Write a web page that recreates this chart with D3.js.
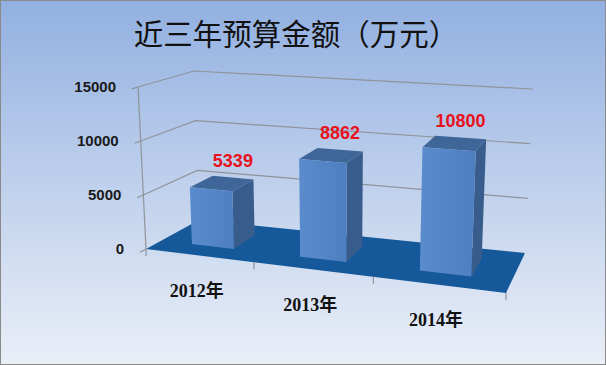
<!DOCTYPE html>
<html>
<head>
<meta charset="utf-8">
<script src="https://cdn.jsdelivr.net/npm/d3@7"></script>
<style>
  body { margin: 0; padding: 0; }
  svg { display: block; }
</style>
</head>
<body>
<div id="chart-area"></div>
<script>
// data
var years = ["2012年", "2013年", "2014年"];
var budget = [5339, 8862, 10800];
var yTicks = [0, 5000, 10000, 15000];
var title = "近三年预算金额（万元）";

var W = 606, H = 365;

var svg = d3.select("#chart-area").append("svg")
    .attr("width", W)
    .attr("height", H);

var defs = svg.append("defs");
var bg = defs.append("linearGradient").attr("id", "bg")
    .attr("x1", 0).attr("y1", 0).attr("x2", 0).attr("y2", 1);
bg.append("stop").attr("offset", "0%").attr("stop-color", "#92b0e1");
bg.append("stop").attr("offset", "55%").attr("stop-color", "#c3d3ed");
bg.append("stop").attr("offset", "100%").attr("stop-color", "#eaeff8");

var front = defs.append("linearGradient").attr("id", "front")
    .attr("x1", 0).attr("y1", 0).attr("x2", 1).attr("y2", 0);
front.append("stop").attr("offset", "0%").attr("stop-color", "#5a8bcc");
front.append("stop").attr("offset", "100%").attr("stop-color", "#4e7fc0");

svg.append("rect")
    .attr("x", 0.5).attr("y", 0.5)
    .attr("width", W - 1).attr("height", H - 1)
    .attr("fill", "url(#bg)")
    .attr("stroke", "#8a8a8a");

// --- perspective "box": floor corners, vertical scale (px per full range) at each corner
var floorFL = [146, 249], floorFR = [506, 293], floorBR = [525, 253], floorBL = [199, 220];
var hFL = 162, hFR = 181, hBL = 149, hBR = 164;
var persU = -0.143, persD = 0.12;   // foreshortening along width / depth
var vp = [337, 4141];               // where the verticals meet

var x = d3.scaleBand()
    .domain(years)
    .range([0, 1])
    .paddingInner(0.6)
    .paddingOuter(0.3);

var y = d3.scaleLinear()
    .domain([0, 15000])
    .range([0, 1]);

function proj(u, d, v) {
    var l = u * (1 + persU) / (1 + persU * u);
    var m = d * (1 + persD) / (1 + persD * d);
    var a = (1 - l) * (1 - m), b = l * (1 - m), c = (1 - l) * m, e = l * m;
    var gx = a * floorFL[0] + b * floorFR[0] + c * floorBL[0] + e * floorBR[0];
    var gy = a * floorFL[1] + b * floorFR[1] + c * floorBL[1] + e * floorBR[1];
    var hp = y(v) * (a * hFL + b * hFR + c * hBL + e * hBR);
    var px = gx + (gx - vp[0]) * hp / (vp[1] - gy);
    return [px, gy - hp];
}

var line = d3.line();
function poly(pts) { return line(pts) + "Z"; }

// floor
svg.append("path")
    .attr("d", poly([proj(0, 0, 0), proj(1, 0, 0), proj(1, 1, 0), proj(0, 1, 0)]))
    .attr("fill", "#15599a");

// gridlines on the side and back walls
svg.selectAll(".grid")
    .data(yTicks.filter(function(t) { return t > 0; }))
    .enter().append("path")
    .attr("class", "grid")
    .attr("d", function(t) { return line([proj(0, -0.1, t), proj(0, 0, t), proj(0, 1, t), proj(1, 1, t)]); })
    .attr("fill", "none")
    .attr("stroke", "#8f949b")
    .attr("stroke-width", 1.2);

// zero tick
svg.append("path")
    .attr("d", line([proj(0, -0.1, 0), proj(0, 0, 0)]))
    .attr("stroke", "#8f949b").attr("stroke-width", 1.2);

// value axis line
svg.append("path")
    .attr("d", line([proj(0, 0, 0), proj(0, 0, 15000)]))
    .attr("stroke", "#8f949b")
    .attr("stroke-width", 1.2);

// category ticks along front edge
svg.selectAll(".ctick")
    .data(d3.range(years.length + 1))
    .enter().append("path")
    .attr("class", "ctick")
    .attr("d", function(i) {
        var p = proj(i / years.length, 0, 0);
        return line([p, [p[0], p[1] + 7]]);
    })
    .attr("stroke", "#8f949b")
    .attr("stroke-width", 1.2);

// tick labels
svg.selectAll(".ylab")
    .data(yTicks)
    .enter().append("text")
    .attr("class", "ylab")
    .attr("x", function(t) { return proj(0, 0, t)[0] - 22; })
    .attr("y", function(t) { return proj(0, 0, t)[1]; })
    .attr("dy", "0.36em")
    .attr("text-anchor", "end")
    .attr("font-family", "Liberation Sans, Arial, sans-serif")
    .attr("font-weight", "bold")
    .attr("font-size", 15)
    .attr("fill", "#1a1a1a")
    .text(function(t) { return t; });

// bars
var d0 = 0.27, d1 = 0.72;
var bars = svg.selectAll(".bar")
    .data(years)
    .enter().append("g")
    .attr("class", "bar");

bars.append("path")   // right side
    .attr("d", function(c, i) {
        var u1 = x(c) + x.bandwidth(), v = budget[i];
        return poly([proj(u1, d0, 0), proj(u1, d1, 0), proj(u1, d1, v), proj(u1, d0, v)]);
    })
    .attr("fill", "#385d8c");

bars.append("path")   // top
    .attr("d", function(c, i) {
        var u0 = x(c), u1 = x(c) + x.bandwidth(), v = budget[i];
        return poly([proj(u0, d0, v), proj(u1, d0, v), proj(u1, d1, v), proj(u0, d1, v)]);
    })
    .attr("fill", "#3e6698");

bars.append("path")   // front
    .attr("d", function(c, i) {
        var u0 = x(c), u1 = x(c) + x.bandwidth(), v = budget[i];
        return poly([proj(u0, d0, 0), proj(u1, d0, 0), proj(u1, d0, v), proj(u0, d0, v)]);
    })
    .attr("fill", "url(#front)");

// value labels
svg.selectAll(".vlab")
    .data(years)
    .enter().append("text")
    .attr("class", "vlab")
    .attr("x", function(c, i) { return proj(x(c) + x.bandwidth() / 2, d1, budget[i])[0]; })
    .attr("y", function(c, i) { return proj(x(c) + x.bandwidth() / 2, d1, budget[i])[1] - 17; })
    .attr("dy", "0.36em")
    .attr("text-anchor", "middle")
    .attr("font-family", "Liberation Sans, Arial, sans-serif")
    .attr("font-weight", "bold")
    .attr("font-size", 18)
    .attr("fill", "#e8111c")
    .text(function(c, i) { return budget[i]; });

// category labels
svg.selectAll(".xlab")
    .data(years)
    .enter().append("text")
    .attr("class", "xlab")
    .attr("x", function(c) { return proj(x(c) + x.bandwidth() / 2, 0, 0)[0] - 2; })
    .attr("y", function(c) { return proj(x(c) + x.bandwidth() / 2, 0, 0)[1] + 35; })
    .attr("dy", "0.36em")
    .attr("text-anchor", "middle")
    .attr("font-family", "Liberation Serif, 'Noto Sans CJK SC', serif")
    .attr("font-weight", "bold")
    .attr("font-size", 18)
    .attr("fill", "#111")
    .text(function(c) { return c; });

// title
svg.append("text")
    .attr("x", 296)
    .attr("y", 34)
    .attr("dy", "0.36em")
    .attr("text-anchor", "middle")
    .attr("font-family", "'Noto Sans CJK SC', sans-serif")
    .attr("font-size", 29.5)
    .attr("fill", "#111")
    .text(title);
</script>
</body>
</html>
